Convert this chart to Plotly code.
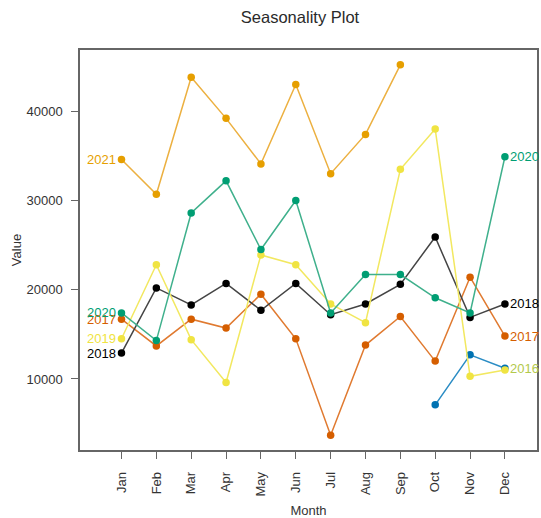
import plotly.graph_objects as go

months = ["Jan", "Feb", "Mar", "Apr", "May", "Jun", "Jul", "Aug", "Sep", "Oct", "Nov", "Dec"]
y2016 = [None, None, None, None, None, None, None, None, None, 7100, 12700, 11200]
y2017 = [16700, 13700, 16700, 15700, 19500, 14500, 3700, 13800, 17000, 12000, 21400, 14800]
y2018 = [12900, 20200, 18300, 20700, 17700, 20700, 17200, 18400, 20600, 25900, 16900, 18400]
y2019 = [14500, 22800, 14400, 9600, 23900, 22800, 18400, 16300, 33500, 38000, 10300, 11000]
y2020 = [17400, 14300, 28600, 32200, 24500, 30000, 17400, 21700, 21700, 19100, 17400, 34900]
y2021 = [34600, 30700, 43800, 39200, 34100, 43000, 33000, 37400, 45200, None, None, None]

years = ["2016", "2017", "2018", "2019", "2020", "2021"]
series = [y2016, y2017, y2018, y2019, y2020, y2021]
colors = ["#0072B2", "#D55E00", "#000000", "#F0E442", "#009E73", "#E69F00"]
line_colors = ["#2a8cc4", "#e07a30", "#444444", "#f2e860", "#3fb08c", "#ecb040"]

x = list(range(1, len(months) + 1))

fig = go.Figure()
for yr, vals, c, lc in zip(years, series, colors, line_colors):
    fig.add_trace(go.Scatter(
        x=x, y=vals, mode="lines+markers", name=yr,
        line=dict(color=lc, width=1.5),
        marker=dict(color=c, size=7.5),
        showlegend=False, connectgaps=False,
    ))

# year labels: left at first month, right at last month
label_font = "Liberation Sans, Arial, sans-serif"
for yr, vals, c in zip(years, series, colors):
    if vals[0] is not None:
        fig.add_annotation(x=x[0], y=vals[0], xref="x", yref="y", text=yr,
                           showarrow=False, xanchor="right", yanchor="middle",
                           xshift=-3, font=dict(size=13, color=c, family=label_font))
    if vals[-1] is not None and yr != "2019":
        col = "#b3c94c" if yr == "2016" else c
        fig.add_annotation(x=x[-1], y=vals[-1], xref="x", yref="y", text=yr,
                           showarrow=False, xanchor="left", yanchor="middle",
                           xshift=3, font=dict(size=13, color=col, family=label_font))

axis_col = "#666666"
fig.update_layout(
    width=541, height=518,
    margin=dict(l=80, r=2, t=50, b=66),
    paper_bgcolor="white", plot_bgcolor="white",
    font=dict(family=label_font, size=13, color="#333333"),
    title=dict(text="Seasonality Plot", x=300 / 541, xanchor="center",
               y=1 - 17 / 518, yanchor="middle",
               font=dict(size=16.5, color="#2a2a2a")),
)
fig.update_xaxes(
    range=[-0.19, 12.92], tickmode="array", tickvals=x, ticktext=months,
    tickangle=-90, ticks="outside", ticklen=7, tickcolor=axis_col, tickwidth=1.3,
    showline=True, linecolor=axis_col, linewidth=1.5, mirror=True,
    showgrid=False, zeroline=False, ticklabelstandoff=8,
    title=dict(text="Month", standoff=10, font=dict(size=13, color="#333333")),
)
fig.update_yaxes(
    range=[2040, 46860], tickmode="array", tickvals=[10000, 20000, 30000, 40000],
    ticks="outside", ticklen=7, tickcolor=axis_col, tickwidth=1.3,
    showline=True, linecolor=axis_col, linewidth=1.5, mirror=True,
    showgrid=False, zeroline=False, ticklabelstandoff=6, tickformat="d",
    title=dict(text="Value", standoff=2, font=dict(size=13, color="#333333")),
)

fig.write_html("out.html", config={"displayModeBar": False},
               post_script="document.body.style.margin='0';document.body.style.overflow='hidden';")
